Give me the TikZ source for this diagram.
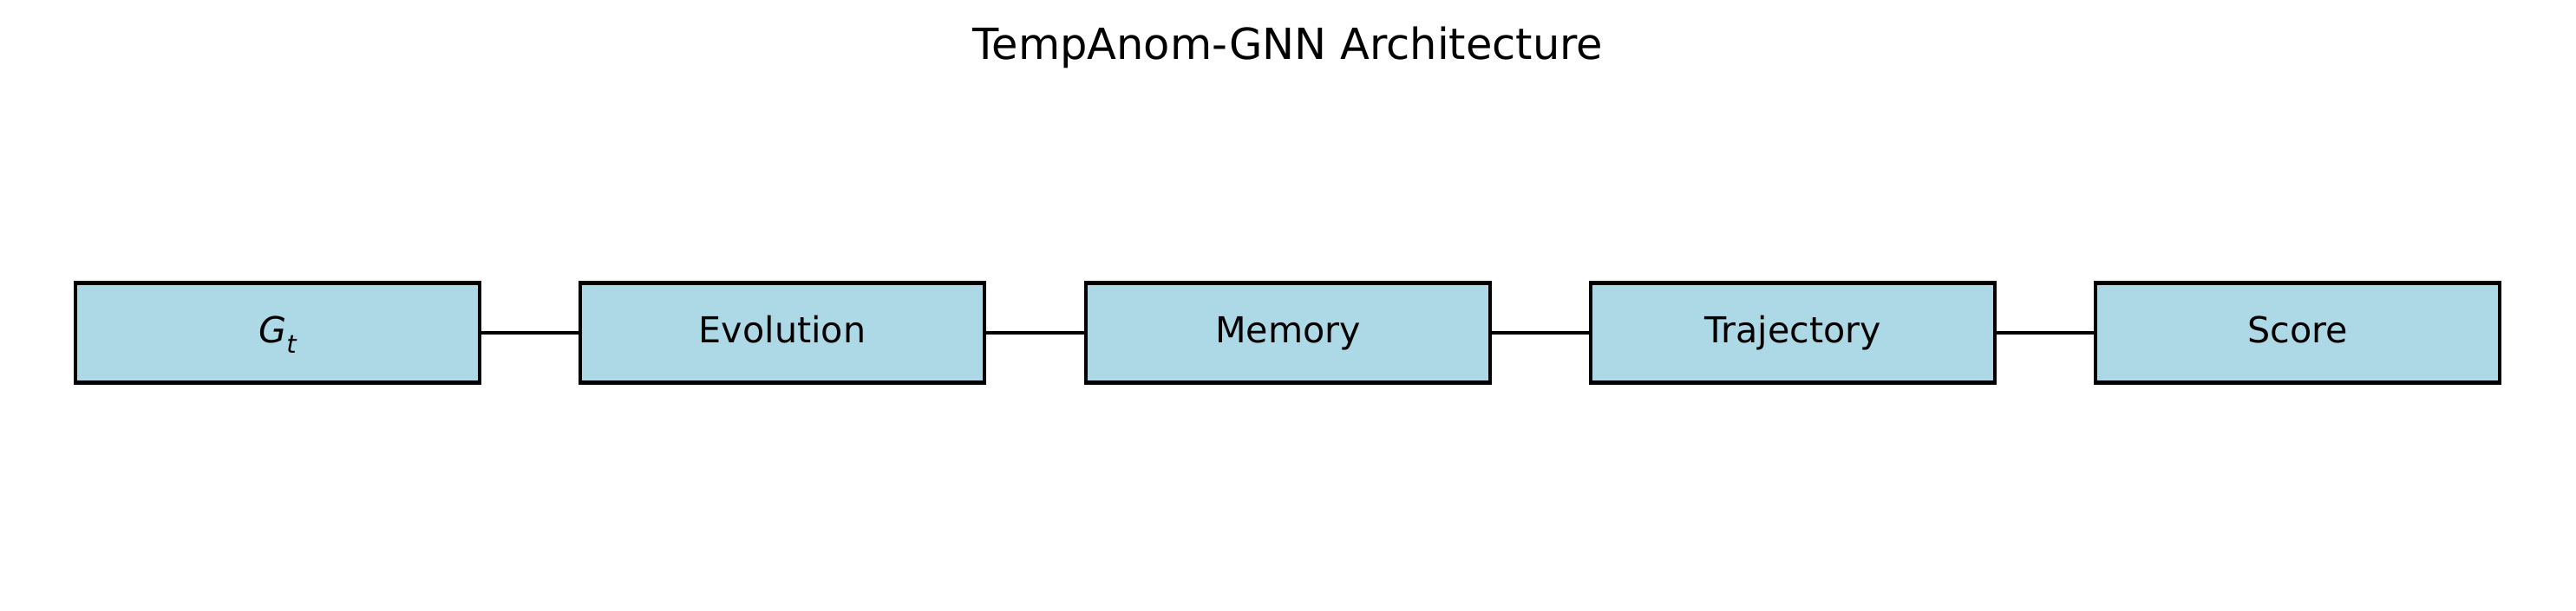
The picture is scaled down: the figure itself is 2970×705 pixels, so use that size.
\documentclass[tikz,border=0pt]{standalone}
\usepackage{fontspec}
\setmainfont{DejaVu Sans}
\definecolor{boxblue}{HTML}{ADD8E6}
\begin{document}
\begin{tikzpicture}[x=0.3636pt,y=-0.3636pt,
  stage/.style={draw=black,fill=boxblue,line width=1.5pt,minimum width=466*0.3636pt,minimum height=115*0.3636pt,inner sep=0pt,text height=0.85em,text depth=0.03em,font=\fontsize{15}{18}\selectfont},
  link/.style={draw=black,line width=1.5pt}]
\useasboundingbox (0,0) rectangle (2970,705);
\node[font=\fontsize{18}{21}\selectfont] (title) at (1485,55) {TempAnom-GNN Architecture};
\node[stage] (g) at (320,384) {\textit{G}\raisebox{-0.3em}{\fontsize{10.5}{12}\selectfont\itshape t}};
\node[stage] (e) at (902,384) {Evolution};
\node[stage] (m) at (1485,384) {Memory};
\node[stage] (t) at (2067,384) {Trajectory};
\node[stage] (s) at (2649,384) {Score};
\draw[link] (g) -- (e);
\draw[link] (e) -- (m);
\draw[link] (m) -- (t);
\draw[link] (t) -- (s);
\end{tikzpicture}
\end{document}
